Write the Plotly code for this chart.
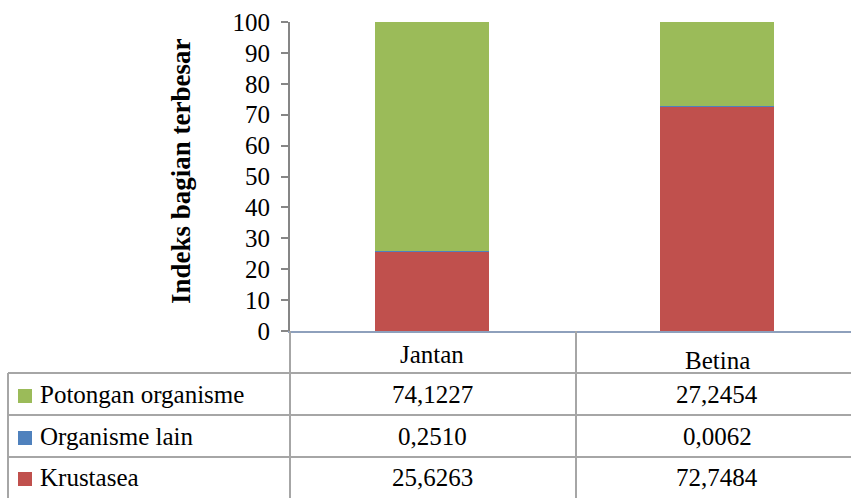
import plotly.graph_objects as go

categories = ["Jantan", "Betina"]
series_names = ["Potongan organisme", "Organisme lain", "Krustasea"]
potongan = [74.1227, 27.2454]
organisme_lain = [0.2510, 0.0062]
krustasea = [25.6263, 72.7484]
colors = {"Potongan organisme": "#9BBB59", "Organisme lain": "#4F81BD", "Krustasea": "#C0504D"}
y_ticks = [0, 10, 20, 30, 40, 50, 60, 70, 80, 90, 100]
y_title = "Indeks bagian terbesar"

W, H = 851, 498
FONT = "Liberation Serif"
FS = 25

def px(x):
    return x / W

def py(y):
    return 1 - y / H

values = {"Potongan organisme": potongan, "Organisme lain": organisme_lain, "Krustasea": krustasea}

fig = go.Figure()
for name in ["Krustasea", "Organisme lain", "Potongan organisme"]:
    fig.add_trace(go.Bar(x=categories, y=values[name], name=name,
                         marker=dict(color=colors[name], line=dict(width=0)),
                         width=0.4, showlegend=False))

grid_col = "#A6A6A6"
shapes = []
shapes.append(dict(type="line", xref="paper", yref="paper", x0=px(290), x1=px(290), y0=py(331), y1=py(498),
                   line=dict(color=grid_col, width=2)))
shapes.append(dict(type="line", xref="paper", yref="paper", x0=px(576), x1=px(576), y0=py(331), y1=py(498),
                   line=dict(color=grid_col, width=2)))
shapes.append(dict(type="line", xref="paper", yref="paper", x0=px(8), x1=px(8), y0=py(373), y1=py(498),
                   line=dict(color=grid_col, width=2)))
for yy in [373, 415, 457]:
    shapes.append(dict(type="line", xref="paper", yref="paper", x0=px(8), x1=1, y0=py(yy), y1=py(yy),
                       line=dict(color=grid_col, width=2)))

annotations = []
cat_x = [432, 717]
cat_y = [354, 360]
for c, xx, yy in zip(categories, cat_x, cat_y):
    annotations.append(dict(text=c, xref="paper", yref="paper", x=px(xx), y=py(yy), showarrow=False,
                            xanchor="center", yanchor="middle", font=dict(family=FONT, size=FS, color="black")))
row_y = [394, 436, 477]
for name, ry in zip(series_names, row_y):
    annotations.append(dict(text=name, xref="paper", yref="paper", x=px(38), y=py(ry), showarrow=False,
                            xanchor="left", yanchor="middle", font=dict(family=FONT, size=FS, color="black")))
    shapes.append(dict(type="rect", xref="paper", yref="paper", x0=px(18), x1=px(32), y0=py(ry - 5), y1=py(ry + 9),
                       fillcolor=colors[name], line=dict(width=0)))
    for v, xx in zip(values[name], cat_x):
        annotations.append(dict(text=f"{v:.4f}".replace(".", ","), xref="paper", yref="paper", x=px(xx), y=py(ry),
                                showarrow=False, xanchor="center", yanchor="middle",
                                font=dict(family=FONT, size=FS, color="black")))

annotations.append(dict(text="<b>" + y_title + "</b>", xref="paper", yref="paper", x=px(181), y=py(171),
                        showarrow=False, textangle=-90, xanchor="center", yanchor="middle",
                        font=dict(family=FONT, size=27, color="black")))

fig.update_layout(
    width=W, height=H,
    margin=dict(l=0, r=0, t=0, b=0),
    barmode="stack",
    plot_bgcolor="white", paper_bgcolor="white",
    showlegend=False,
    xaxis=dict(domain=[px(290), 1], range=[-0.5, 1.47], showticklabels=False, showgrid=False, zeroline=False,
               showline=True, linecolor="#8EA0BC", linewidth=2, ticks="", automargin=False),
    yaxis=dict(domain=[py(331), py(22)], range=[0, 100], tickvals=y_ticks, showgrid=False, zeroline=False,
               showline=True, linecolor="#868686", linewidth=2, ticks="outside", ticklen=7,
               tickcolor="#868686", tickwidth=2, automargin=False, ticklabelstandoff=6,
               tickfont=dict(family=FONT, size=FS, color="black")),
    shapes=shapes,
    annotations=annotations,
)

fig.write_html("out.html", config={"displayModeBar": False}, post_script="document.body.style.margin='0';")
